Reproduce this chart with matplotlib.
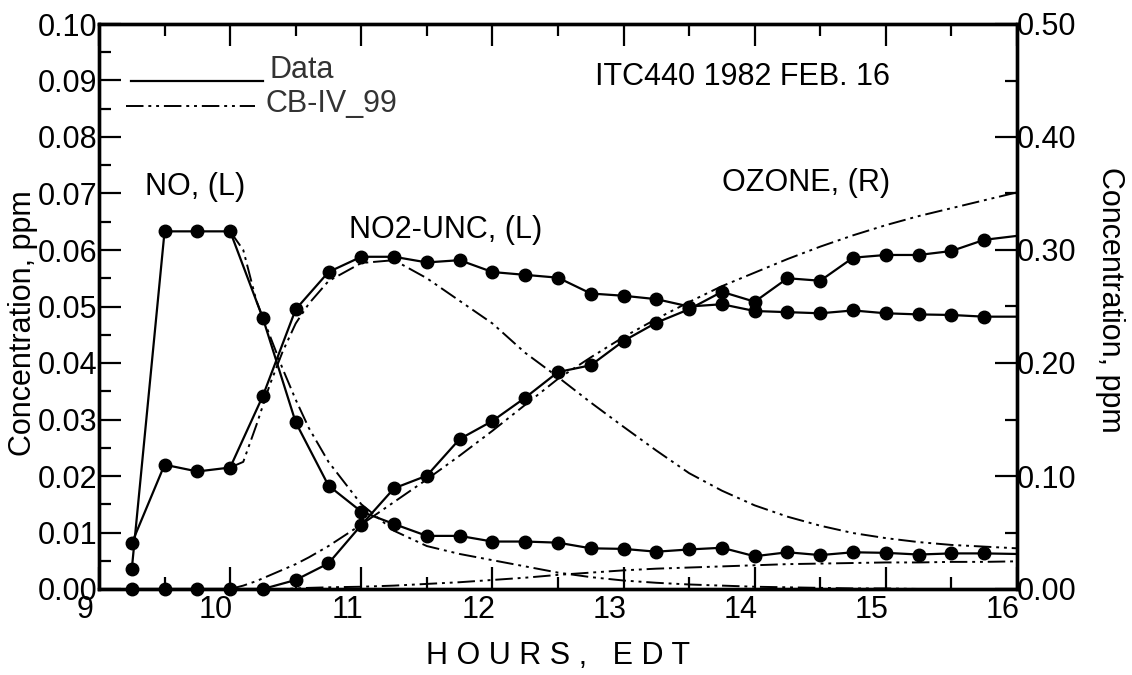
import matplotlib
matplotlib.use("Agg")
import matplotlib.pyplot as plt
import matplotlib.transforms as mtransforms
from matplotlib.ticker import MultipleLocator, FormatStrFormatter

plt.rcParams['font.family'] = ['Liberation Sans', 'DejaVu Sans']

# observed data, every 15 minutes (last value only for the line end at 16)
hours = [9.25, 9.5, 9.75, 10.0, 10.25, 10.5, 10.75, 11.0, 11.25, 11.5, 11.75,
         12.0, 12.25, 12.5, 12.75, 13.0, 13.25, 13.5, 13.75, 14.0, 14.25,
         14.5, 14.75, 15.0, 15.25, 15.5, 15.75, 16.0]
no_obs = [0.0035, 0.0633, 0.0633, 0.0633, 0.0479, 0.0295, 0.0183, 0.0137,
          0.0115, 0.0094, 0.0094, 0.0084, 0.0084, 0.0082, 0.0072, 0.0071,
          0.0066, 0.0070, 0.0073, 0.0058, 0.0065, 0.0060, 0.0065, 0.0064,
          0.0061, 0.0063, 0.0063, 0.0062]
no2_obs = [0.0081, 0.0220, 0.0208, 0.0215, 0.0342, 0.0495, 0.0561, 0.0588,
           0.0588, 0.0578, 0.0582, 0.0561, 0.0556, 0.0551, 0.0523, 0.0519,
           0.0513, 0.0500, 0.0504, 0.0492, 0.0490, 0.0488, 0.0493, 0.0488,
           0.0486, 0.0485, 0.0482, 0.0482]
o3_obs = [0.0, 0.0, 0.0, 0.0, 0.0, 0.008, 0.0227, 0.0566, 0.0891, 0.1003,
          0.1327, 0.1487, 0.1693, 0.1920, 0.1980, 0.2195, 0.2357, 0.2476,
          0.2630, 0.2542, 0.2750, 0.2728, 0.2932, 0.2956, 0.2956, 0.2991,
          0.3090, 0.3125]

# CB-IV_99 model
t_mod = [10.0, 10.1, 10.2, 10.3, 10.4, 10.5, 10.6, 10.75, 11.0, 11.25, 11.5,
         11.75, 12.0, 12.25, 12.5, 12.75, 13.0, 13.25, 13.5, 13.75, 14.0,
         14.25, 14.5, 14.75, 15.0, 15.25, 15.5, 15.75, 16.0]
no_mod = [0.0633, 0.0600, 0.0510, 0.0450, 0.0390, 0.0335, 0.0285, 0.0225,
          0.0150, 0.0103, 0.0076, 0.0062, 0.0051, 0.0040, 0.0029, 0.0021,
          0.0015, 0.0011, 0.0008, 0.0006, 0.0004, 0.0003, 0.0002, 0.0001,
          0.0001, 0.0, 0.0, 0.0, 0.0]
no2_mod = [0.0215, 0.0225, 0.0290, 0.0360, 0.0420, 0.0470, 0.0505, 0.0545,
           0.0577, 0.0582, 0.0550, 0.0510, 0.0470, 0.0418, 0.0375, 0.0330,
           0.0287, 0.0245, 0.0205, 0.0174, 0.0148, 0.0128, 0.0112, 0.0099,
           0.0090, 0.0083, 0.0078, 0.0075, 0.0072]
o3_mod = [0.0, 0.003, 0.007, 0.012, 0.017, 0.022, 0.028, 0.038, 0.057, 0.077,
          0.097, 0.118, 0.140, 0.163, 0.186, 0.205, 0.223, 0.239, 0.254,
          0.268, 0.280, 0.292, 0.303, 0.313, 0.322, 0.330, 0.337, 0.344, 0.351]
pan_mod = [0.0, 0.0, 0.0, 0.0, 0.0, 0.0001, 0.0002, 0.0003, 0.0004, 0.0006,
           0.0009, 0.0012, 0.0016, 0.0020, 0.0025, 0.0029, 0.0033, 0.0036,
           0.0038, 0.0040, 0.0042, 0.0044, 0.0045, 0.0046, 0.0047, 0.0047,
           0.0048, 0.0048, 0.0049]

FS = 22
model_ls = (0, (9, 2.5, 1.5, 2.5, 1.5, 2.5))

fig = plt.figure(figsize=(11.32, 6.75), dpi=100)
ax = fig.add_axes([99 / 1132, 86 / 675, 918 / 1132, 565 / 675])
ax2 = ax.twinx()

mk = dict(color='black', lw=1.6, marker='o', ms=9, markevery=slice(0, 27),
          clip_on=False, zorder=3)
ax.plot(hours, no_obs, **mk)
ax.plot(hours, no2_obs, **mk)
ax2.plot(hours, o3_obs, **mk)

ax.plot(t_mod, no_mod, color='black', lw=1.4, ls=model_ls)
ax.plot(t_mod, no2_mod, color='black', lw=1.4, ls=model_ls)
ax.plot(t_mod, pan_mod, color='black', lw=1.4, ls=model_ls)
ax2.plot(t_mod, o3_mod, color='black', lw=1.4, ls=model_ls)

ax.set_xlim(9, 16)
ax.set_ylim(0, 0.10)
ax2.set_ylim(0, 0.50)

ax.xaxis.set_major_locator(MultipleLocator(1))
ax.xaxis.set_minor_locator(MultipleLocator(0.5))
ax.yaxis.set_major_locator(MultipleLocator(0.01))
ax.yaxis.set_minor_locator(MultipleLocator(0.005))
ax.yaxis.set_major_formatter(FormatStrFormatter('%.2f'))
ax2.yaxis.set_major_locator(MultipleLocator(0.1))
ax2.yaxis.set_minor_locator(MultipleLocator(0.05))
ax2.yaxis.set_major_formatter(FormatStrFormatter('%.2f'))

ax.tick_params(axis='x', which='both', direction='in', top=True, bottom=True,
               labelsize=FS, pad=4, width=1.6)
ax.tick_params(axis='y', which='both', direction='in', right=False,
               labelsize=FS, pad=1, width=1.6)
ax2.tick_params(axis='y', which='both', direction='in', labelsize=FS, pad=0,
                width=1.6)
for a in (ax, ax2):
    a.tick_params(which='major', length=16)
    a.tick_params(which='minor', length=8.5)
    for s in a.spines.values():
        s.set_linewidth(2.4)

shift = mtransforms.ScaledTranslation(-0.14, 0, fig.dpi_scale_trans)
for lab in ax.get_xticklabels():
    lab.set_transform(lab.get_transform() + shift)

ax.set_xlabel('H O U R S ,   E D T', fontsize=FS, labelpad=12)
fig.text(23 / 1132, 1 - 323 / 675, 'Concentration, ppm', fontsize=FS,
         rotation=90, ha='center', va='center')
fig.text(1110 / 1132, 1 - 300 / 675, 'Concentration, ppm', fontsize=FS,
         rotation=-90, ha='center', va='center')

# legend drawn by hand like the original
ax.plot([9.244, 10.25], [0.0899, 0.0899], color='black', lw=1.6)
ax.plot([9.206, 10.19], [0.0855, 0.0855], color='black', lw=1.4, ls=model_ls)
ax.text(10.30, 0.0919, 'Data', fontsize=FS, color='#333333', va='center')
ax.text(10.27, 0.0859, 'CB-IV_99', fontsize=FS, color='#333333', va='center')

ax.text(12.78, 0.0906, 'ITC440 1982 FEB. 16', fontsize=FS, va='center')
ax.text(9.35, 0.0712, 'NO, (L)', fontsize=FS, va='center')
ax.text(10.91, 0.0635, 'NO2-UNC, (L)', fontsize=FS, va='center')
ax.text(13.75, 0.0719, 'OZONE, (R)', fontsize=FS, va='center')

fig.savefig('out.png', dpi=100)
